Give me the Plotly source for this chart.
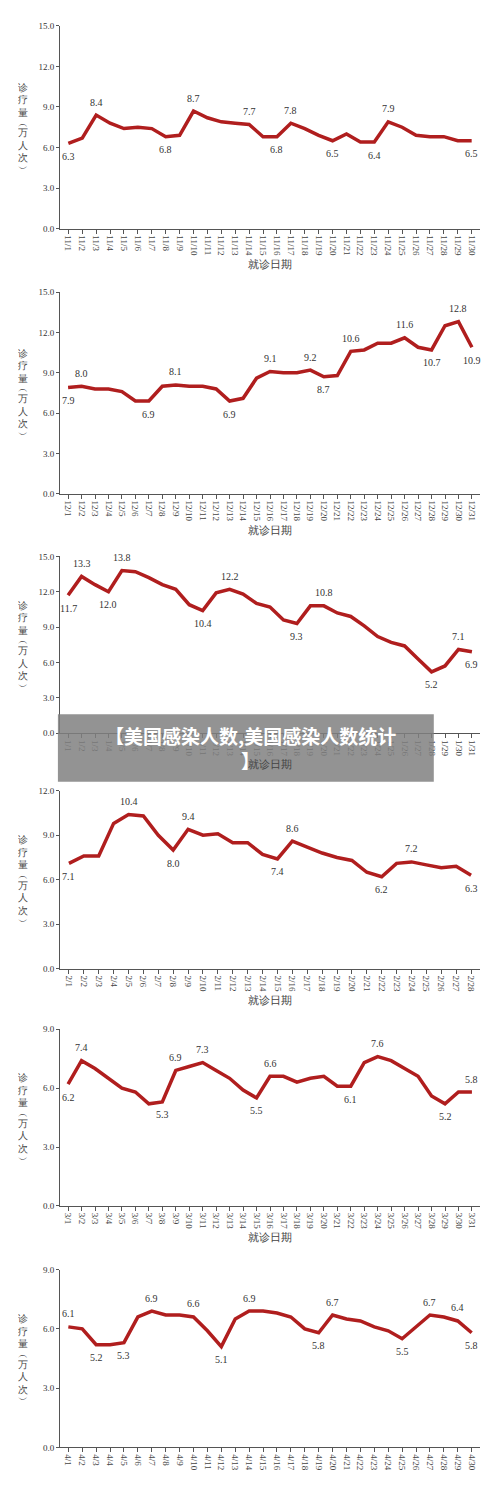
import plotly.graph_objects as go

months = [11, 12, 1, 2, 3, 4]

nov = [6.3, 6.7, 8.4, 7.8, 7.4, 7.5, 7.4, 6.8, 6.9, 8.7, 8.2, 7.9, 7.8, 7.7, 6.8,
       6.8, 7.8, 7.4, 6.9, 6.5, 7.0, 6.4, 6.4, 7.9, 7.5, 6.9, 6.8, 6.8, 6.5, 6.5]
dec = [7.9, 8.0, 7.8, 7.8, 7.6, 6.9, 6.9, 8.0, 8.1, 8.0, 8.0, 7.8, 6.9, 7.1, 8.6, 9.1,
       9.0, 9.0, 9.2, 8.7, 8.8, 10.6, 10.7, 11.2, 11.2, 11.6, 10.9, 10.7, 12.5, 12.8, 10.9]
jan = [11.7, 13.3, 12.6, 12.0, 13.8, 13.7, 13.2, 12.6, 12.2, 10.9, 10.4, 11.9, 12.2, 11.8,
       11.0, 10.7, 9.6, 9.3, 10.8, 10.8, 10.2, 9.9, 9.1, 8.2, 7.7, 7.4, 6.3, 5.2, 5.7, 7.1, 6.9]
feb = [7.1, 7.6, 7.6, 9.8, 10.4, 10.3, 9.0, 8.0, 9.4, 9.0, 9.1, 8.5, 8.5, 7.7, 7.4, 8.6,
       8.2, 7.8, 7.5, 7.3, 6.5, 6.2, 7.1, 7.2, 7.0, 6.8, 6.9, 6.3]
mar = [6.2, 7.4, 7.0, 6.5, 6.0, 5.8, 5.2, 5.3, 6.9, 7.1, 7.3, 6.9, 6.5, 5.9, 5.5, 6.6,
       6.6, 6.3, 6.5, 6.6, 6.1, 6.1, 7.3, 7.6, 7.4, 7.0, 6.6, 5.6, 5.2, 5.8, 5.8]
apr = [6.1, 6.0, 5.2, 5.2, 5.3, 6.6, 6.9, 6.7, 6.7, 6.6, 5.9, 5.1, 6.5, 6.9, 6.9, 6.8,
       6.6, 6.0, 5.8, 6.7, 6.5, 6.4, 6.1, 5.9, 5.5, 6.1, 6.7, 6.6, 6.4, 5.8]
series = [nov, dec, jan, feb, mar, apr]

# which points carry a value label (above / below the line)
labels_up = [[2, 9, 13, 16, 23], [1, 8, 15, 18, 21, 25, 29], [1, 4, 12, 19, 29],
             [4, 8, 15, 23], [1, 8, 10, 15, 23, 30], [0, 6, 9, 13, 19, 26, 28]]
labels_down = [[0, 7, 15, 19, 22, 29], [0, 6, 12, 19, 27, 30], [0, 3, 10, 17, 27, 30],
               [0, 7, 14, 21, 27], [0, 7, 14, 21, 28], [2, 4, 11, 18, 24, 29]]
y_max = [15, 15, 15, 12, 9, 9]
ytitle_chars = ['诊', '疗', '量', '︵', '万', '人', '次', '︶']

# page offset of the figure, then pixel top/bottom of each plot
OFF = 10
px = [(23, 227), (291, 494), (557, 735), (793, 972), (1033, 1211), (1275, 1454)]
H = 1501
RED = '#b01e1e'
FONT = 'Liberation Serif'

fig = go.Figure()
for i, (m, vals) in enumerate(zip(months, series)):
    n = i + 1
    xs = [f'{m}/{d}' for d in range(1, len(vals) + 1)]
    xa = 'x' if n == 1 else f'x{n}'
    ya = 'y' if n == 1 else f'y{n}'
    fig.add_trace(go.Scatter(x=xs, y=vals, mode='lines', xaxis=xa, yaxis=ya,
                             line=dict(color=RED, width=3.5), showlegend=False))
    for idx in labels_up[i]:
        fig.add_annotation(x=xs[idx], y=vals[idx], xref=xa, yref=ya, text=f'{vals[idx]:.1f}',
                           showarrow=False, yshift=13, font=dict(family=FONT, size=10, color='#333'))
    for idx in labels_down[i]:
        fig.add_annotation(x=xs[idx], y=vals[idx], xref=xa, yref=ya, text=f'{vals[idx]:.1f}',
                           showarrow=False, yshift=-13, font=dict(family=FONT, size=10, color='#333'))
    top, bot = px[i][0] - OFF, px[i][1] - OFF
    dom = [1 - bot / H, 1 - top / H]
    fig.layout[f'xaxis{n}' if n > 1 else 'xaxis'] = dict(
        domain=[0, 1], anchor=ya, type='category', range=[-0.6, len(vals) - 0.4],
        tickangle=90, tickfont=dict(family=FONT, size=9, color='#444'),
        showline=True, linecolor='#555', ticks='outside', ticklen=4, tickcolor='#555',
        showgrid=False, zeroline=False,
        title=dict(text='就诊日期' if n < 6 else '', font=dict(size=11, color='#444'), standoff=4))
    fig.layout[f'yaxis{n}' if n > 1 else 'yaxis'] = dict(
        domain=dom, anchor=xa, range=[0, y_max[i]], dtick=3, tickformat='.1f',
        tickfont=dict(family=FONT, size=9, color='#333'),
        showline=True, linecolor='#555', ticks='outside', ticklen=3, tickcolor='#555',
        showgrid=False, zeroline=False)
    # stacked vertical axis title
    ymid = (dom[0] + dom[1]) / 2
    shift = 46
    for ch in ytitle_chars:
        step = 8 if ch in '︵︶' else 12.5
        fig.add_annotation(xref='paper', yref='paper', x=-0.088, y=ymid, yshift=shift - step / 2,
                           xanchor='center', yanchor='middle', showarrow=False, text=ch,
                           height=step, valign='middle',
                           font=dict(size=10, color='#444'))
        shift -= step

# grey caption banner overlay
fig.add_shape(type='rect', xref='paper', yref='paper', x0=-0.005, x1=0.89,
              y0=1 - (784 - OFF) / H, y1=1 - (716 - OFF) / H,
              fillcolor='rgba(128,128,128,0.85)', line_width=0)
fig.add_annotation(xref='paper', yref='paper', x=(250 - 8 - 52) / 420, y=1 - (750 - OFF) / H,
                   showarrow=False, text='<b>【美国感染人数,美国感染人数统计<br>】</b>',
                   align='center', font=dict(family='Noto Sans CJK SC', size=19, color='white'))

fig.update_layout(width=500, height=H, margin=dict(l=52, r=28, t=0, b=0),
                  paper_bgcolor='white', plot_bgcolor='white')
fig.write_html('out.html')
